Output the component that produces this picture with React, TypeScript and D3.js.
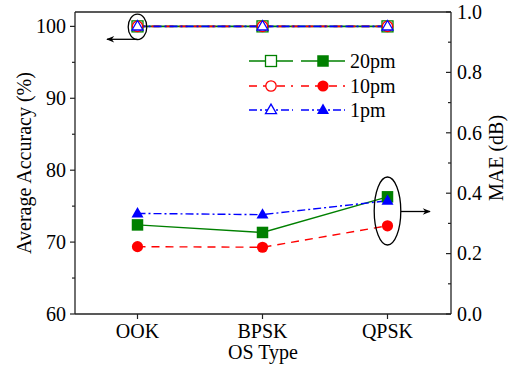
import React from "react";
import * as d3 from "d3";

const categories = ["OOK", "BPSK", "QPSK"];
const acc20 = [100, 100, 100];
const acc10 = [100, 100, 100];
const acc1 = [100, 100, 100];
const mae20 = [0.295, 0.27, 0.388];
const mae10 = [0.223, 0.221, 0.292];
const mae1 = [0.333, 0.329, 0.375];
const leftTicks = [60, 70, 80, 90, 100];
const leftMinor = [65, 75, 85, 95];
const rightTicks = [0, 0.2, 0.4, 0.6, 0.8, 1.0];
const rightMinor = [0.1, 0.3, 0.5, 0.7, 0.9];
const seriesNames = ["20pm", "10pm", "1pm"];

const W = 509, H = 370;
const L = 75, R = 451, T = 12, B = 314;
const FONT = "'Liberation Serif', 'Times New Roman', serif";

type Marker = "square" | "circle" | "triangle";

function MarkerShape({ kind, x, y, color, filled }: { kind: Marker; x: number; y: number; color: string; filled: boolean }) {
  const fill = filled ? color : "white";
  const sw = filled ? 0 : 1.3;
  if (kind === "square") {
    const s = filled ? 11.5 : 11;
    return <rect x={x - s / 2} y={y - s / 2} width={s} height={s} fill={fill} stroke={color} strokeWidth={sw} />;
  }
  if (kind === "circle") {
    return <circle cx={x} cy={y} r={filled ? 5.6 : 5.2} fill={fill} stroke={color} strokeWidth={sw} />;
  }
  const s = filled ? 12 : 11;
  const h = s * 0.866;
  const p = `M${x},${y - h * 0.62} L${x + s / 2},${y + h * 0.38} L${x - s / 2},${y + h * 0.38} Z`;
  return <path d={p} fill={fill} stroke={color} strokeWidth={sw} />;
}

export default function App() {
  const x = d3.scalePoint<string>().domain(categories).range([L, R - 1]).padding(0.5);
  const yL = d3.scaleLinear().domain([60, 102]).range([B, T]);
  const yR = d3.scaleLinear().domain([0, 1]).range([B, T]);

  const series = [
    { name: seriesNames[0], acc: acc20, mae: mae20, color: "#008000", dash: "", marker: "square" as Marker },
    { name: seriesNames[1], acc: acc10, mae: mae10, color: "#ff0000", dash: "8,6", marker: "circle" as Marker },
    { name: seriesNames[2], acc: acc1, mae: mae1, color: "#0000ff", dash: "8,3,2,3", marker: "triangle" as Marker },
  ];

  const lineL = d3.line<number>().x((_, i) => x(categories[i])!).y((d) => yL(d));
  const lineR = d3.line<number>().x((_, i) => x(categories[i])!).y((d) => yR(d));

  const axisColor = "#222";
  const legendRows = [61, 86, 110];
  const txt = { fontFamily: FONT, fontSize: "20px" };

  return (
    <svg width={W} height={H} style={{ position: "absolute", left: 0, top: 0 }}>
      <defs>
        <marker id="arr" viewBox="0 0 10 10" refX="9" refY="5" markerWidth="12" markerHeight="8" markerUnits="userSpaceOnUse" orient="auto">
          <path d="M0,1 L10,5 L0,9 L3,5 Z" fill="black" />
        </marker>
      </defs>
      <line x1={L} x2={R} y1={T} y2={T} stroke={axisColor} strokeWidth={1.3} />
      <line x1={L} x2={L} y1={T} y2={B} stroke={axisColor} strokeWidth={1.3} />
      <line x1={R} x2={R} y1={T} y2={B} stroke={axisColor} strokeWidth={1.3} />
      <line x1={L} x2={R} y1={B} y2={B} stroke={axisColor} strokeWidth={1.3} />

      {leftTicks.map((t) => (
        <g key={"l" + t}>
          <line x1={L - 5} x2={L} y1={yL(t)} y2={yL(t)} stroke={axisColor} strokeWidth={1.2} />
          <text x={L - 9} y={yL(t)} dy="0.34em" style={txt} textAnchor="end" fill="#000">{t}</text>
        </g>
      ))}
      {leftMinor.map((t) => (
        <line key={"lm" + t} x1={L - 3} x2={L} y1={yL(t)} y2={yL(t)} stroke={axisColor} strokeWidth={1.2} />
      ))}
      {rightTicks.map((t) => (
        <g key={"r" + t}>
          <line x1={R - 5} x2={R} y1={yR(t)} y2={yR(t)} stroke={axisColor} strokeWidth={1.2} />
          <text x={R + 6} y={yR(t)} dy="0.34em" style={txt} textAnchor="start" fill="#000">{t.toFixed(1)}</text>
        </g>
      ))}
      {rightMinor.map((t) => (
        <line key={"rm" + t} x1={R - 3} x2={R} y1={yR(t)} y2={yR(t)} stroke={axisColor} strokeWidth={1.2} />
      ))}
      {categories.map((c) => (
        <g key={c}>
          <line x1={x(c)!} x2={x(c)!} y1={B} y2={B + 5} stroke={axisColor} strokeWidth={1.2} />
          <text x={x(c)!} y={338} style={txt} textAnchor="middle" fill="#000">{c}</text>
        </g>
      ))}
      <text x={(L + R) / 2} y={359} style={txt} textAnchor="middle" fill="#000">OS Type</text>
      <text transform={`translate(31,${163}) rotate(-90)`} style={txt} textAnchor="middle" fill="#000">Average Accuracy (%)</text>
      <text transform={`translate(503,${158}) rotate(-90)`} style={txt} textAnchor="middle" fill="#000">MAE (dB)</text>

      {series.map((s) => (
        <path key={"mr" + s.name} d={lineR(s.mae)!} fill="none" stroke={s.color} strokeWidth={1.4} strokeDasharray={s.dash} />
      ))}
      {series.map((s) =>
        s.mae.map((v, i) => (
          <MarkerShape key={"mm" + s.name + i} kind={s.marker} x={x(categories[i])!} y={yR(v)} color={s.color} filled={true} />
        ))
      )}
      {series.map((s) => (
        <path key={"al" + s.name} d={lineL(s.acc)!} fill="none" stroke={s.color} strokeWidth={1.6} strokeDasharray={s.dash} />
      ))}
      {series.map((s) =>
        s.acc.map((v, i) => (
          <MarkerShape key={"am" + s.name + i} kind={s.marker} x={x(categories[i])!} y={yL(v)} color={s.color} filled={false} />
        ))
      )}

      {series.map((s, k) => {
        const y = legendRows[k];
        return (
          <g key={"lg" + s.name}>
            <line x1={249} x2={293} y1={y} y2={y} stroke={s.color} strokeWidth={1.4} strokeDasharray={s.dash} />
            <MarkerShape kind={s.marker} x={271} y={y} color={s.color} filled={false} />
            <line x1={301} x2={345} y1={y} y2={y} stroke={s.color} strokeWidth={1.4} strokeDasharray={s.dash} />
            <MarkerShape kind={s.marker} x={323} y={y} color={s.color} filled={true} />
            <text x={350} y={y} dy="0.34em" style={txt} fill="#000">{s.name}</text>
          </g>
        );
      })}

      <ellipse cx={x("OOK")!} cy={yL(100) + 0.5} rx={9.3} ry={12.7} fill="none" stroke="black" strokeWidth={1.3} />
      <line x1={x("OOK")!} x2={107} y1={39.3} y2={39.3} stroke="black" strokeWidth={1.3} markerEnd="url(#arr)" />
      <ellipse cx={x("QPSK")!} cy={211} rx={13.3} ry={34} fill="none" stroke="black" strokeWidth={1.3} />
      <line x1={x("QPSK")! + 13.3} x2={430} y1={211.5} y2={211.5} stroke="black" strokeWidth={1.3} markerEnd="url(#arr)" />
    </svg>
  );
}
